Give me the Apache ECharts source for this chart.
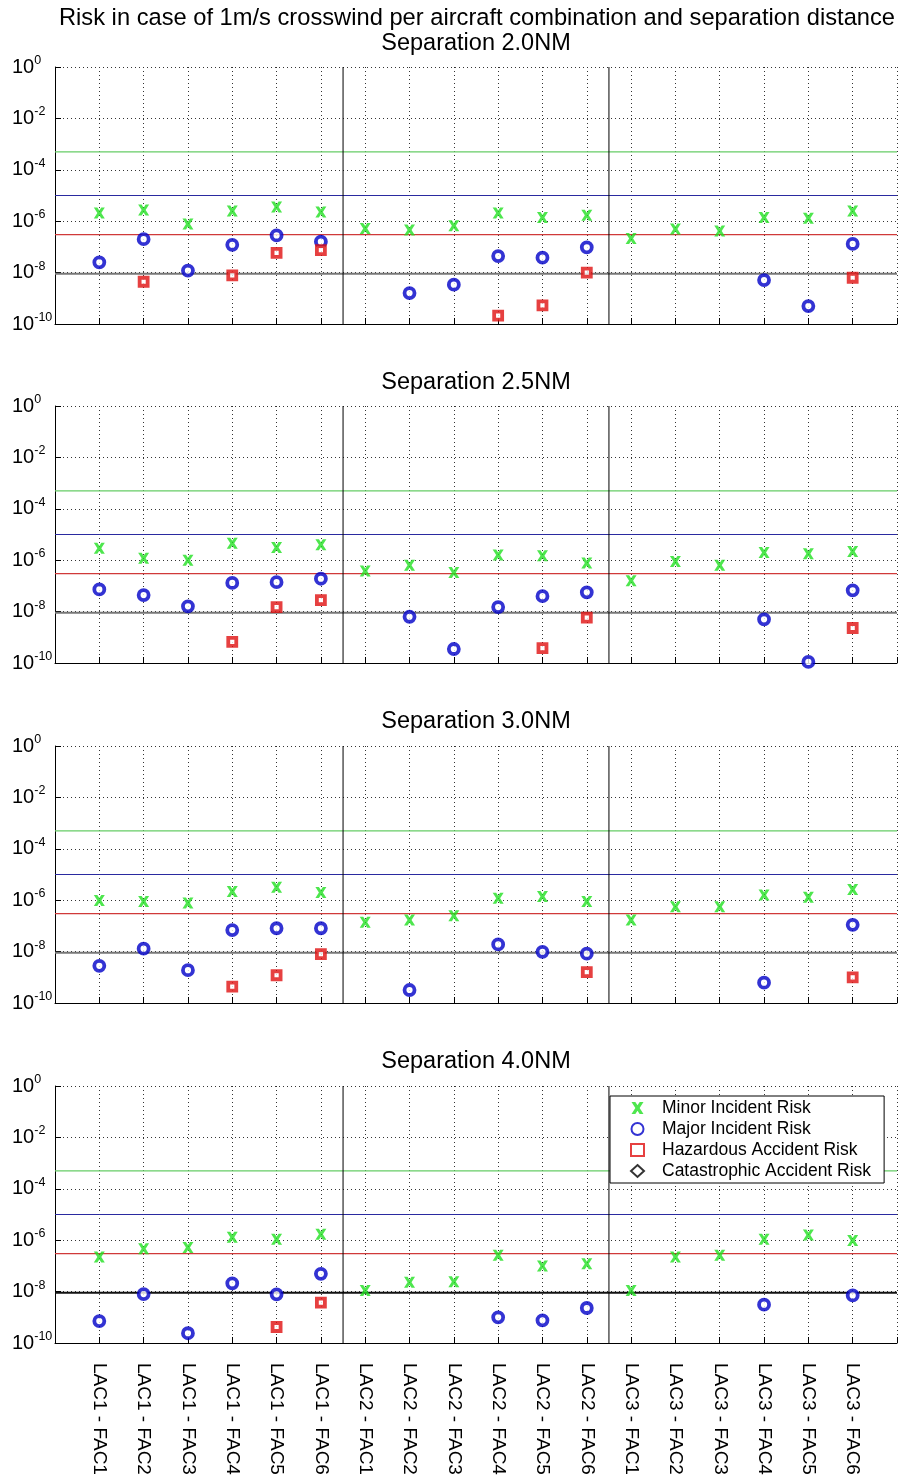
<!DOCTYPE html>
<html>
<head>
<meta charset="utf-8">
<script src="https://cdn.jsdelivr.net/npm/echarts@6/dist/echarts.min.js"></script>
<style>
html,body{margin:0;padding:0;background:#fff;}
#chart{width:898px;height:1483px;}
</style>
</head>
<body>
<div id="chart"></div>
<script>
// ---- data ----
const mainTitle = 'Risk in case of 1m/s crosswind per aircraft combination and separation distance';
const panelTitles = ['Separation 2.0NM', 'Separation 2.5NM', 'Separation 3.0NM', 'Separation 4.0NM'];
const categories = ['LAC1 - FAC1','LAC1 - FAC2','LAC1 - FAC3','LAC1 - FAC4','LAC1 - FAC5','LAC1 - FAC6',
                    'LAC2 - FAC1','LAC2 - FAC2','LAC2 - FAC3','LAC2 - FAC4','LAC2 - FAC5','LAC2 - FAC6',
                    'LAC3 - FAC1','LAC3 - FAC2','LAC3 - FAC3','LAC3 - FAC4','LAC3 - FAC5','LAC3 - FAC6'];
const seriesNames = ['Minor Incident Risk', 'Major Incident Risk', 'Hazardous Accident Risk', 'Catastrophic Accident Risk'];

// Separation 2.0NM
const minor20 = [2.1e-6, 2.7e-6, 7.7e-7, 2.5e-6, 3.6e-6, 2.3e-6, 5.2e-7, 4.5e-7, 6.6e-7, 2.1e-6, 1.4e-6, 1.7e-6, 2.1e-7, 5.0e-7, 4.2e-7, 1.4e-6, 1.3e-6, 2.5e-6];
const major20 = [2.5e-8, 2.0e-7, 1.2e-8, 1.2e-7, 2.8e-7, 1.6e-7, null, 1.6e-9, 3.4e-9, 4.4e-8, 3.8e-8, 9.6e-8, null, null, null, 5.1e-9, 5.0e-10, 1.3e-7];
const hazard20 = [null, 4.4e-9, null, 7.8e-9, 5.9e-8, 7.5e-8, null, null, null, 2.1e-10, 5.3e-10, 1.0e-8, null, null, null, null, null, 6.3e-9];
const catas20 = [];
// Separation 2.5NM
const minor25 = [2.9e-6, 1.2e-6, 1.0e-6, 4.6e-6, 3.1e-6, 4.0e-6, 3.8e-7, 6.3e-7, 3.3e-7, 1.6e-6, 1.5e-6, 7.7e-7, 1.6e-7, 8.9e-7, 6.3e-7, 2.0e-6, 1.8e-6, 2.2e-6];
const major25 = [7.3e-8, 4.4e-8, 1.6e-8, 1.3e-7, 1.4e-7, 1.9e-7, null, 6.3e-9, 3.5e-10, 1.5e-8, 4.0e-8, 5.6e-8, null, null, null, 5.0e-9, 1.1e-10, 6.7e-8];
const hazard25 = [null, null, null, 6.6e-10, 1.5e-8, 2.8e-8, null, null, null, null, 3.8e-10, 5.8e-9, null, null, null, null, null, 2.3e-9];
const catas25 = [];
// Separation 3.0NM
const minor30 = [9.8e-7, 8.9e-7, 7.7e-7, 2.2e-6, 3.2e-6, 2.0e-6, 1.4e-7, 1.7e-7, 2.5e-7, 1.2e-6, 1.4e-6, 8.9e-7, 1.7e-7, 5.5e-7, 5.5e-7, 1.6e-6, 1.3e-6, 2.6e-6];
const major30 = [2.8e-9, 1.3e-8, 1.9e-9, 6.9e-8, 8.1e-8, 8.1e-8, null, 3.2e-10, null, 1.9e-8, 9.8e-9, 8.3e-9, null, null, null, 6.2e-10, null, 1.1e-7];
const hazard30 = [null, null, null, 4.3e-10, 1.2e-9, 8.0e-9, null, null, null, null, null, 1.6e-9, null, null, null, null, null, 1.0e-9];
const catas30 = [];
// Separation 4.0NM
const minor40 = [2.2e-7, 4.6e-7, 5.2e-7, 1.3e-6, 1.1e-6, 1.7e-6, 1.1e-8, 2.3e-8, 2.4e-8, 2.6e-7, 1.0e-7, 1.2e-7, 1.1e-8, 2.2e-7, 2.6e-7, 1.1e-6, 1.6e-6, 9.8e-7];
const major40 = [7.1e-10, 8.0e-9, 2.4e-10, 2.1e-8, 7.8e-9, 4.9e-8, null, null, null, 1.0e-9, 7.6e-10, 2.3e-9, null, null, null, 3.1e-9, null, 7.1e-9];
const hazard40 = [null, null, null, null, 4.2e-10, 3.7e-9, null, null, null, null, null, null, null, null, null, null, null, null];
const catas40 = [];

// risk criteria lines
const minorLimit = 5e-4;
const majorLimit = 1e-5;
const hazardLimit = 3e-7;
const catasLimit = 9e-9;
// group separators (between LAC groups)
const groupSeparators = [6.5, 12.5];

const panels = [
  {minor: minor20, major: major20, hazard: hazard20, catas: catas20},
  {minor: minor25, major: major25, hazard: hazard25, catas: catas25},
  {minor: minor30, major: major30, hazard: hazard30, catas: catas30},
  {minor: minor40, major: major40, hazard: hazard40, catas: catas40}
];

// ---- build ----
const FONT = '"Liberation Sans", Arial, sans-serif';
const xPath = 'path://M0,0 L3.2,0 L5,2.8 L6.8,0 L10,0 L6.8,5 L10,10 L6.8,10 L5,7.2 L3.2,10 L0,10 L3.2,5 Z';
const gridTops = [67, 406, 746, 1086];
const titleYs = [44, 383, 722, 1062];
const gridH = 257;
const catasLineColors = ['#777', '#777', '#777', '#111'];

function toPts(arr) {
  const out = [];
  arr.forEach((v, i) => { if (v != null) out.push([i + 1, v]); });
  return out;
}

const grids = [], xAxes = [], yAxes = [], series = [], graphics = [];

graphics.push({type: 'text', x: 477, y: 18, z: 20, style: {text: mainTitle, font: '23.7px ' + FONT, fill: '#000', textAlign: 'center', textVerticalAlign: 'middle'}});

panels.forEach((p, i) => {
  graphics.push({type: 'text', x: 476, y: titleYs[i], z: 20, style: {text: panelTitles[i], font: '23.5px ' + FONT, fill: '#000', textAlign: 'center', textVerticalAlign: 'middle'}});
  grids.push({left: 55, right: 1, top: gridTops[i], height: gridH, show: false});
  xAxes.push({
    type: 'value', gridIndex: i, min: 0, max: categories.length + 1, interval: 1,
    axisLine: {show: true, onZero: false, lineStyle: {color: '#000', width: 1}},
    axisTick: {show: true, inside: true, length: 6, lineStyle: {color: '#000'}},
    splitLine: {show: true, lineStyle: {color: '#333', type: [1, 3], width: 1}},
    axisLabel: {
      show: i === 3, rotate: -90, margin: 20, fontSize: 19, fontFamily: FONT, color: '#000',
      formatter: v => categories[v - 1] || ''
    }
  });
  yAxes.push({
    type: 'log', logBase: 10, gridIndex: i, min: 1e-10, max: 1, interval: 2,
    axisLine: {show: true, onZero: false, lineStyle: {color: '#000', width: 1}},
    axisTick: {show: true, inside: true, length: 6, lineStyle: {color: '#000'}},
    splitLine: {show: true, lineStyle: {color: '#333', type: [1, 3], width: 1}},
    axisLabel: {
      margin: 43, align: 'left', color: '#000',
      formatter: v => '{b|10}{s|' + Math.round(Math.log10(v)) + '}',
      rich: {
        b: {fontSize: 20, fontFamily: FONT, color: '#000'},
        s: {fontSize: 12.5, fontFamily: FONT, color: '#000', padding: [0, 0, 13, 0]}
      }
    }
  });
  const lim = (v, color, w) => ({
    type: 'line', xAxisIndex: i, yAxisIndex: i, data: [[0, v], [categories.length + 1, v]],
    symbol: 'none', silent: true, z: 1, lineStyle: {color: color, width: w}
  });
  series.push(lim(minorLimit, '#66cc66', 1.2));
  series.push(lim(majorLimit, '#2a2aa0', 1.2));
  series.push(lim(hazardLimit, '#d03a3a', 1.2));
  series.push(lim(catasLimit, catasLineColors[i], 2));
  groupSeparators.forEach(s => {
    series.push({type: 'line', xAxisIndex: i, yAxisIndex: i, data: [[s, 1e-10], [s, 1]], symbol: 'none', silent: true, z: 1, lineStyle: {color: '#000', width: 1}});
  });
  series.push({name: seriesNames[0], type: 'scatter', xAxisIndex: i, yAxisIndex: i, data: toPts(p.minor),
    symbol: xPath, symbolSize: 11, itemStyle: {color: '#22e022'}, z: 5});
  series.push({name: seriesNames[1], type: 'scatter', xAxisIndex: i, yAxisIndex: i, data: toPts(p.major),
    symbol: 'circle', symbolSize: 10, itemStyle: {color: '#ffffff', borderColor: '#0000c8', borderWidth: 3.8}, z: 5});
  series.push({name: seriesNames[2], type: 'scatter', xAxisIndex: i, yAxisIndex: i, data: toPts(p.hazard),
    symbol: 'rect', symbolSize: 8, itemStyle: {color: '#ffffff', borderColor: '#e01010', borderWidth: 3.8}, z: 5});
  series.push({name: seriesNames[3], type: 'scatter', xAxisIndex: i, yAxisIndex: i, data: toPts(p.catas),
    symbol: 'diamond', symbolSize: 10, itemStyle: {color: '#ffffff', borderColor: '#000', borderWidth: 3.8}, z: 5});
});

const chart = echarts.init(document.getElementById('chart'), null, {renderer: 'canvas'});
chart.setOption({
  backgroundColor: '#fff',
  animation: false,
  textStyle: {fontFamily: FONT},
  grid: grids,
  xAxis: xAxes,
  yAxis: yAxes,
  series: series,
  graphic: graphics,
  legend: {
    data: seriesNames, orient: 'vertical', left: 610, top: 1096, z: 10,
    backgroundColor: '#fff', borderColor: '#000', borderWidth: 1, borderRadius: 0,
    padding: [3, 13, 3, 20], itemGap: 3, itemWidth: 13, itemHeight: 12,
    selectedMode: false,
    textStyle: {fontSize: 17.5, fontFamily: FONT, color: '#000', lineHeight: 17.5, padding: [0, 0, 0, 13]}
  }
});
</script>
</body>
</html>
